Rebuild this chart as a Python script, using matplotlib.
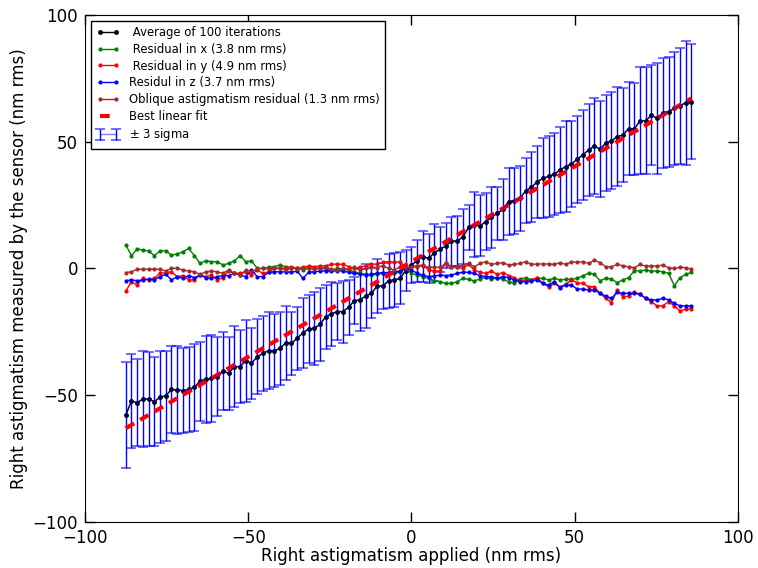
import numpy as np
import matplotlib
matplotlib.use("Agg")
import matplotlib.pyplot as plt

# applied right astigmatism (nm rms), 100 steps of 1.75
applied = np.arange(-87.5, 86.0, 1.75)

average = [
    -57.8, -52.3, -52.9, -51.5, -51.5, -52.5, -50.8, -50.2, -47.7, -47.9,
    -48.2, -47.7, -46.9, -44.4, -43.7, -43.3, -42.7, -40.4, -41.4, -38.7,
    -38.7, -36.4, -37.4, -34.8, -33.5, -32.4, -32.4, -31.5, -29.3, -29.5,
    -27.5, -25.3, -23.9, -23.6, -22.0, -19.0, -17.9, -17.0, -17.0, -15.3,
    -12.7, -12.4, -10.8, -9.8, -6.9, -6.9, -4.8, -4.5, -3.9, -0.8,
    1.4, 3.1, 4.7, 4.0, 6.2, 7.6, 8.9, 10.8, 10.8, 12.5,
    16.2, 17.2, 16.8, 18.5, 20.2, 21.8, 23.3, 26.4, 26.8, 27.7,
    30.7, 32.0, 34.2, 35.6, 36.3, 37.2, 38.9, 40.2, 41.2, 43.1,
    44.8, 46.8, 48.3, 47.1, 49.4, 50.4, 52.0, 52.7, 55.2, 55.0,
    58.3, 58.3, 60.5, 59.2, 61.5, 61.9, 63.2, 64.2, 65.4, 65.8,
]

three_sigma = [
    20.8, 18.6, 17.0, 18.9, 18.6, 17.4, 18.2, 17.8, 17.3, 17.5,
    16.8, 16.7, 17.1, 15.6, 17.1, 17.1, 15.6, 15.5, 14.3, 15.9,
    14.5, 16.1, 14.1, 14.8, 14.8, 15.1, 14.5, 14.3, 14.5, 12.5,
    12.5, 13.8, 13.3, 14.5, 14.3, 12.6, 12.7, 11.4, 12.2, 10.8,
    9.2, 12.3, 12.5, 9.9, 10.8, 8.9, 10.7, 10.5, 10.3, 8.2,
    7.0, 8.3, 10.0, 9.7, 11.2, 8.9, 8.9, 9.7, 9.9, 10.8,
    8.9, 12.8, 12.0, 11.2, 12.1, 10.5, 12.2, 13.1, 13.0, 12.8,
    12.8, 13.8, 14.1, 15.8, 16.1, 16.1, 17.0, 17.9, 17.1, 17.1,
    17.9, 18.1, 18.9, 18.9, 18.9, 19.1, 19.4, 18.6, 18.5, 18.3,
    21.2, 21.2, 19.7, 21.8, 21.7, 21.7, 22.2, 22.8, 24.5, 22.7,
]

resid_x = [
    9.3, 5.1, 7.7, 7.3, 6.9, 5.1, 7.0, 6.9, 5.3, 5.7,
    6.6, 7.9, 5.1, 2.0, 3.1, 2.7, 2.7, 1.4, 2.0, 3.0,
    5.1, 2.7, 3.0, 0.1, 0.0, 0.5, 0.7, 1.4, 0.7, 0.1,
    0.3, -0.6, 0.0, 0.0, 0.3, -0.3, -0.6, 0.0, -0.2, -0.6,
    -1.3, -1.9, -2.3, -2.6, -2.3, -1.9, -1.6, -1.9, -1.5, 0.0,
    -1.9, -2.6, -3.2, -3.9, -4.8, -5.2, -5.9, -5.9, -5.2, -3.9,
    -4.3, -4.9, -4.1, -3.5, -4.3, -3.6, -4.3, -5.2, -5.9, -4.1,
    -3.6, -4.5, -3.9, -3.9, -4.5, -3.9, -4.5, -4.3, -4.3, -3.9,
    -2.8, -1.9, -2.3, -4.8, -3.9, -4.1, -5.6, -4.5, -3.6, -0.9,
    -0.9, -0.6, -1.0, -1.0, -1.3, -1.9, -6.8, -3.6, -2.3, -1.5,
]

resid_y = [
    -8.9, -5.2, -6.5, -3.9, -4.5, -3.9, -1.9, -1.7, -1.3, -3.2,
    -2.8, -4.5, -4.5, -2.6, -3.2, -2.6, -4.5, -3.6, -1.0, -1.9,
    -1.9, -1.5, -2.6, -0.6, -1.9, -1.3, 0.0, 0.0, 0.3, 0.7,
    0.0, 0.5, 1.0, 0.7, 1.0, 1.1, 1.6, 1.8, 1.6, 0.7,
    0.0, 0.5, 1.1, 1.6, 1.8, 2.4, 2.7, 2.4, 2.7, 0.0,
    0.7, 1.1, 1.4, -0.6, -1.0, -1.0, 2.0, 0.7, 0.5, 0.0,
    1.6, -0.6, -1.5, -1.9, -1.0, -2.3, -1.6, -2.8, -3.6, -4.8,
    -4.5, -4.5, -3.6, -5.9, -7.2, -5.9, -7.2, -6.3, -4.5, -5.6,
    -5.9, -7.2, -7.2, -9.8, -11.8, -13.5, -8.5, -11.1, -10.9, -9.4,
    -10.1, -11.8, -13.1, -14.8, -14.7, -13.1, -14.7, -16.8, -16.0, -16.0,
]

resid_z = [
    -4.8, -4.5, -4.8, -4.5, -4.3, -4.5, -3.2, -2.3, -4.5, -3.2,
    -3.9, -2.8, -3.6, -2.6, -3.6, -3.9, -3.2, -2.8, -2.8, -1.9,
    -2.6, -3.2, -0.6, -3.2, -3.2, -1.5, -1.3, -1.3, -1.3, -1.5,
    -1.0, -3.9, -1.5, -1.3, -1.0, -1.0, -1.0, -0.9, -1.0, -1.5,
    -1.9, -2.3, -2.6, -2.2, -1.9, -1.6, -1.6, -1.3, -1.0, 0.0,
    -0.6, -1.9, -2.6, -3.2, -3.0, -2.6, -2.8, -2.6, -1.9, -1.5,
    -1.5, -1.9, -2.8, -3.2, -3.2, -3.9, -3.2, -3.6, -4.5, -5.2,
    -5.2, -4.9, -4.5, -5.9, -6.5, -5.2, -7.6, -6.5, -6.5, -8.1,
    -8.1, -8.5, -8.5, -9.8, -10.9, -11.8, -9.4, -9.8, -9.8, -9.8,
    -10.2, -11.8, -12.4, -12.4, -11.8, -12.4, -13.8, -14.7, -14.8, -14.8,
]

resid_oblique = [
    -1.6, -1.3, -0.3, -0.3, -0.3, -0.3, -0.3, -1.0, 0.1, 0.1,
    -0.6, -1.0, -1.3, -2.3, -1.3, -1.0, -1.3, -1.9, -0.6, -1.9,
    -2.6, -0.6, -1.3, -0.2, 0.1, -0.3, 0.3, 0.0, -0.6, 0.3,
    -0.3, 0.0, 0.3, -0.3, 0.0, 0.5, -0.2, -0.6, 0.0, -0.3,
    0.5, -0.6, 0.0, 0.7, 0.3, 1.1, 0.0, -0.6, 0.7, 0.0,
    0.5, 0.7, 1.1, 0.5, 0.5, 0.5, 2.0, 0.7, 0.5, 1.4,
    2.0, 0.7, 2.0, 2.7, 1.6, 2.0, 2.3, 1.4, 1.6, 2.0,
    2.7, 1.6, 1.8, 1.8, 1.8, 1.6, 2.3, 1.6, 2.7, 2.4,
    2.7, 2.0, 3.3, 2.3, 0.7, 0.7, 1.6, 1.1, 0.7, 0.3,
    1.6, 1.0, 1.0, 1.0, 1.4, 0.3, 0.0, 0.5, 0.3, -0.3,
]

plt.rcParams['lines.scale_dashes'] = False

fig = plt.figure(figsize=(7.58, 5.68), dpi=100)
ax = fig.add_axes([0.1121, 0.081, 0.8615, 0.8926])

ax.plot(applied, average, 'k.-', lw=1, ms=5, label=' Average of 100 iterations')
ax.plot(applied, resid_x, '.-', color='g', lw=1, ms=4, label=' Residual in x (3.8 nm rms)')
ax.plot(applied, resid_y, '.-', color='r', lw=1, ms=4, label=' Residual in y (4.9 nm rms)')
ax.plot(applied, resid_z, '.-', color='b', lw=1, ms=4, label='Residul in z (3.7 nm rms)')
ax.plot(applied, resid_oblique, '.-', color='brown', lw=1, ms=4,
        label='Oblique astigmatism residual (1.3 nm rms)')

# linear fit of the average
slope, offset = np.polyfit(applied, average, 1)
ax.plot(applied, slope * applied + offset, '--', color='r', lw=3,
        dashes=(7, 5), label='Best linear fit')

eb = ax.errorbar(applied, average, yerr=three_sigma, fmt='-', color='b',
                 ecolor='b', elinewidth=1, lw=1, capsize=3.6, capthick=1.5,
                 label=r'$\pm$ 3 sigma', zorder=1.5)
eb[0].set_alpha(0.5)
eb[0].set_zorder(2.5)
for cap in eb[1]:
    cap.set_alpha(0.55)

ax.set_xlim(-100, 100)
ax.set_ylim(-100, 100)
ax.set_xticks([-100, -50, 0, 50, 100])
ax.set_yticks([-100, -50, 0, 50, 100])
ax.tick_params(direction='in', top=True, right=True, length=7, width=1,
               labelsize=12, pad=5)
ax.set_xlabel('Right astigmatism applied (nm rms)', fontsize=12, labelpad=0)
ax.set_ylabel('Right astigmatism measured by the sensor (nm rms)', fontsize=12, labelpad=3)

leg = ax.legend(loc='upper left', fontsize=8.4, numpoints=2, fancybox=False,
                framealpha=1, edgecolor='k', labelspacing=0.32,
                borderpad=0.45, handletextpad=0.8)
leg.get_frame().set_linewidth(1)

fig.savefig('out.png', dpi=100)
